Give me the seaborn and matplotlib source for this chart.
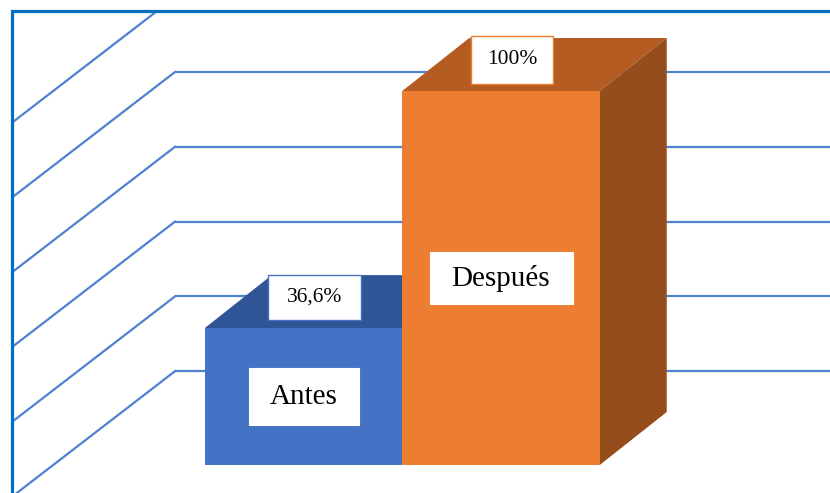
import pandas as pd
import seaborn as sns
import matplotlib.pyplot as plt
from matplotlib.patches import Polygon, Rectangle

# Data
categories = ["Antes", "Después"]
values = [36.6, 100.0]
value_labels = ["36,6%", "100%"]
grid_values = [20, 40, 60, 80, 100, 120]

front_colors = ["#4472C4", "#ED7D31"]
top_colors = ["#2F5597", "#B45C22"]
side_colors = ["#2A4C88", "#964D1C"]
box_edges = ["#4472C4", "#ED7D31"]

# pixel scale of the fake 3D axes (figure is 830 x 493 px, axes fills it)
PX_X = 197.5          # px per category unit
PX_Y = 3.74           # px per percentage point
X0, Y0 = 303.5, 28.0  # pixel position of category 0 / value 0
DEPTH_X = 67 / PX_X   # oblique depth of the bars
DEPTH_Y = 53 / PX_Y
WALL_X = (175 - X0) / PX_X
WALL_LIFT = 19 / PX_Y
SIDE_SLOPE = 0.77 * PX_X / PX_Y

df = pd.DataFrame({"Periodo": categories, "Valor": values})

fig = plt.figure(figsize=(8.3, 4.93), dpi=100)
ax = fig.add_axes([0, 0, 1, 1])

sns.barplot(data=df, x="Periodo", y="Valor", hue="Periodo", palette=front_colors,
            width=1.0, legend=False, ax=ax, zorder=3, linewidth=0, saturation=1)
bars = sorted(ax.patches, key=lambda p: p.get_x())

ax.set_xlim(-X0 / PX_X, (830 - X0) / PX_X)
ax.set_ylim(-Y0 / PX_Y, (493 - Y0) / PX_Y)
ax.axis("off")

# outer border (only the left and top edges are inside the picture)
frame = Rectangle((12 / 830, -0.2), 1.3, 482 / 493 + 0.2, transform=ax.transAxes,
                  fill=False, edgecolor="#0070C0", lw=2.3, zorder=6)
ax.add_patch(frame)
clip = Rectangle((12 / 830, -0.2), 1.3, 482 / 493 + 0.2, transform=ax.transAxes,
                 fill=False, lw=0)
ax.add_patch(clip)

# gridlines: back wall horizontal, side wall diagonal
grid_color = "#5080D0"
for g in grid_values:
    yb = g + WALL_LIFT
    h = ax.plot([WALL_X, 3], [yb, yb], color=grid_color, lw=1.6, zorder=1,
                solid_capstyle="butt")[0]
    d = ax.plot([WALL_X, WALL_X - 2], [yb, yb - 2 * SIDE_SLOPE], color=grid_color,
                lw=1.6, zorder=1)[0]
    h.set_clip_path(clip)
    d.set_clip_path(clip)

# 3D top and side faces built from the bar patches
for i, bar in enumerate(bars):
    x, w, h = bar.get_x(), bar.get_width(), bar.get_height()
    top = Polygon([(x, h), (x + w, h), (x + w + DEPTH_X, h + DEPTH_Y), (x + DEPTH_X, h + DEPTH_Y)],
                  closed=True, facecolor=top_colors[i], lw=0, zorder=2)
    side = Polygon([(x + w, 0), (x + w + DEPTH_X, DEPTH_Y), (x + w + DEPTH_X, h + DEPTH_Y), (x + w, h)],
                   closed=True, facecolor=side_colors[i], lw=0, zorder=2)
    ax.add_patch(top)
    ax.add_patch(side)

    cx = x + w / 2
    # category label box in the middle of the front face
    cw, ch = (110, 57) if i == 0 else (143, 52)
    ax.add_patch(Rectangle((cx - cw / 2 / PX_X, h / 2 - ch / 2 / PX_Y), cw / PX_X, ch / PX_Y,
                           facecolor="white", edgecolor="white", lw=0.8, zorder=4))
    ax.text(cx, h / 2, categories[i], ha="center", va="center", fontsize=21,
            family="Liberation Serif", color="#000000", zorder=5)

    # value label box on the top face
    vx = cx + 11 / PX_X
    vy = h + 31 / PX_Y
    vw, vh = (93, 45) if i == 0 else (82, 48)
    ax.add_patch(Rectangle((vx - vw / 2 / PX_X, vy - vh / 2 / PX_Y), vw / PX_X, vh / PX_Y,
                           facecolor="white", edgecolor=box_edges[i], lw=1.0, zorder=4))
    ax.text(vx, vy, value_labels[i], ha="center", va="center", fontsize=15.5,
            family="Liberation Serif", color="#000000", zorder=5)

fig.savefig("out.png", dpi=100)
